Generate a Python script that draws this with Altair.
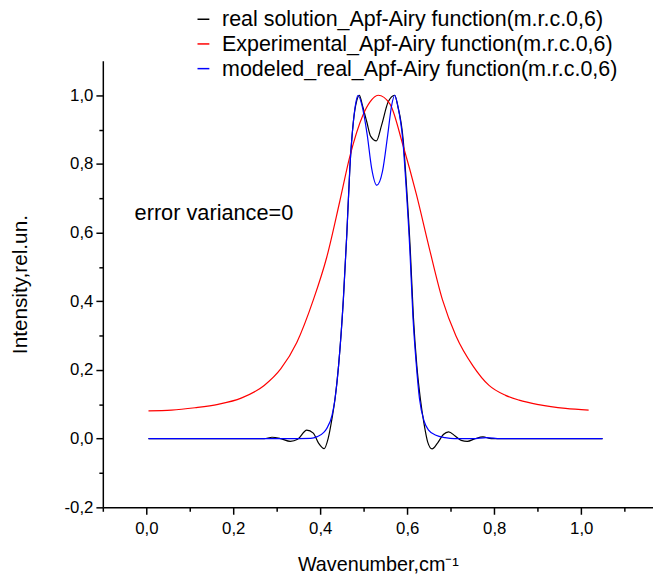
import altair as alt
import pandas as pd

# ---------------- data ----------------
series_names = [
    "\u00a0real solution_Apf-Airy function(m.r.c.0,6)",
    "Experimental_Apf-Airy function(m.r.c.0,6)",
    "modeled_real_Apf-Airy function(m.r.c.0,6)",
]
series_colors = ["#000000", "#ff0000", "#0000ff"]

real_x = [0.005, 0.112, 0.218, 0.271, 0.289, 0.309, 0.331, 0.348, 0.369, 0.384,
          0.396, 0.409, 0.418, 0.427, 0.434, 0.442, 0.453, 0.461, 0.468, 0.476,
          0.484, 0.490, 0.496, 0.507, 0.516, 0.529, 0.541, 0.556, 0.571, 0.578,
          0.591, 0.598, 0.607, 0.614, 0.622, 0.630, 0.639, 0.647, 0.657, 0.670,
          0.683, 0.695, 0.710, 0.724, 0.738, 0.756, 0.774, 0.793, 0.857, 0.964, 1.049]
real_y = [0.000, 0.000, 0.000, 0.000, 0.004, 0.000, -0.008, -0.002, 0.025, 0.016,
          -0.013, -0.029, 0.000, 0.059, 0.117, 0.212, 0.404, 0.596, 0.788, 0.922,
          0.985, 1.000, 0.975, 0.922, 0.880, 0.867, 0.913, 0.980, 1.000, 0.970,
          0.865, 0.740, 0.548, 0.356, 0.212, 0.117, 0.040, -0.010, -0.030, -0.012,
          0.012, 0.020, 0.008, -0.005, -0.008, 0.000, 0.005, 0.000, 0.000, 0.000, 0.000]

exp_x = [0.005, 0.058, 0.112, 0.165, 0.218, 0.271, 0.309, 0.346, 0.384, 0.415,
         0.445, 0.468, 0.498, 0.514, 0.533, 0.560, 0.590, 0.621, 0.650, 0.681,
         0.712, 0.751, 0.788, 0.826, 0.857, 0.902, 0.964, 1.017]
exp_y = [0.081, 0.083, 0.090, 0.100, 0.118, 0.155, 0.203, 0.280, 0.404, 0.529,
         0.692, 0.822, 0.942, 0.980, 1.000, 0.975, 0.855, 0.711, 0.558, 0.404,
         0.299, 0.212, 0.155, 0.126, 0.112, 0.099, 0.088, 0.083]

mod_x = [0.005, 0.112, 0.218, 0.325, 0.378, 0.393, 0.408, 0.415, 0.427, 0.434,
         0.442, 0.453, 0.461, 0.468, 0.476, 0.482, 0.487, 0.496, 0.508, 0.518,
         0.530, 0.543, 0.555, 0.564, 0.571, 0.578, 0.590, 0.597, 0.606, 0.613,
         0.621, 0.628, 0.639, 0.649, 0.666, 0.687, 0.708, 0.751, 0.782, 0.814, 0.910, 1.049]
mod_y = [0.000, 0.000, 0.000, 0.000, 0.001, 0.006, 0.018, 0.030, 0.068, 0.117,
         0.212, 0.404, 0.596, 0.788, 0.922, 0.980, 1.000, 0.970, 0.884, 0.788,
         0.738, 0.778, 0.884, 0.970, 1.000, 0.970, 0.865, 0.740, 0.548, 0.356,
         0.212, 0.117, 0.050, 0.025, 0.010, 0.003, 0.000, 0.000, 0.003, 0.000, 0.000, 0.000]

x_major = [0.0, 0.2, 0.4, 0.6, 0.8, 1.0]
x_minor = [-0.1, 0.1, 0.3, 0.5, 0.7, 0.9, 1.1]
y_major = [-0.2, 0.0, 0.2, 0.4, 0.6, 0.8, 1.0]
y_minor = [-0.1, 0.1, 0.3, 0.5, 0.7, 0.9]

note_x = [-0.027]
note_y = [0.637]
note_text = ["error variance=0"]

# ---------------- tables ----------------
rows = []
for name, xs, ys in zip(series_names, [real_x, exp_x, mod_x], [real_y, exp_y, mod_y]):
    for i, (a, b) in enumerate(zip(xs, ys)):
        rows.append({"series": name, "x": a, "y": b, "i": i})
df = pd.DataFrame(rows)
notes = pd.DataFrame({"x": note_x, "y": note_y, "text": note_text})

FONT = "Liberation Sans"
label_expr = "replace(replace(format(datum.value, '.1f'), '.', ','), '\u2212', '-')"

xscale = alt.Scale(domain=[-0.1, 1.165], nice=False, zero=False)
yscale = alt.Scale(domain=[-0.2, 1.1], nice=False, zero=False)
cscale = alt.Scale(domain=series_names, range=series_colors)

legend = alt.Legend(
    orient="none", legendX=91, legendY=-53, title=None,
    symbolType="stroke", symbolSize=144, symbolStrokeWidth=1.5,
    labelFont=FONT, labelFontSize=21.7, labelColor="black",
    labelOffset=8, labelLimit=800, rowPadding=2,
)

ax_major_x = alt.Axis(
    values=x_major, labelExpr=label_expr, orient="bottom", grid=False,
    tickSize=7, tickWidth=1.5, tickColor="black", domainColor="black", domainWidth=1.5,
    labelFont=FONT, labelFontSize=17, labelColor="black", labelPadding=6,
    title="Wavenumber,cm\u207b\u00b9", titleFont=FONT, titleFontSize=20,
    titleFontWeight="normal", titleColor="black", titlePadding=19,
)
ax_major_y = alt.Axis(
    values=y_major, labelExpr=label_expr, orient="left", grid=False,
    tickSize=7, tickWidth=1.5, tickColor="black", domainColor="black", domainWidth=1.5,
    labelFont=FONT, labelFontSize=17, labelColor="black", labelPadding=3,
    title="Intensity,rel.un.", titleFont=FONT, titleFontSize=21,
    titleFontWeight="normal", titleColor="black", titlePadding=34,
)
ax_minor_x = alt.Axis(values=x_minor, orient="bottom", grid=False, labels=False,
                      domain=False, tickSize=4, tickWidth=1.5, tickColor="black", title=None)
ax_minor_y = alt.Axis(values=y_minor, orient="left", grid=False, labels=False,
                      domain=False, tickSize=4, tickWidth=1.5, tickColor="black", title=None)


def line_layer(name, xaxis, yaxis):
    return alt.Chart(df).transform_filter(alt.datum.series == name).mark_line(
        strokeWidth=1.2, interpolate="monotone"
    ).encode(
        x=alt.X("x:Q", scale=xscale, axis=xaxis),
        y=alt.Y("y:Q", scale=yscale, axis=yaxis),
        color=alt.Color("series:N", scale=cscale, legend=legend, sort=series_names),
        order="i:Q",
    )


black = line_layer(series_names[0], ax_major_x, ax_major_y)
red = line_layer(series_names[1], ax_minor_x, ax_minor_y)
blue = line_layer(series_names[2], None, None)

text = alt.Chart(notes).mark_text(
    align="left", baseline="alphabetic", font=FONT, fontSize=22, color="black"
).encode(
    x=alt.X("x:Q", scale=xscale, axis=None),
    y=alt.Y("y:Q", scale=yscale, axis=None),
    text="text:N",
)

chart = alt.layer(black, red, blue, text).resolve_axis(
    x="independent", y="independent"
).properties(
    width=557, height=452,
    autosize=alt.AutoSizeParams(type="none"),
    padding={"left": 96, "top": 50, "right": 0, "bottom": 68},
    background="white",
).configure_view(stroke=None)

chart.save("out.html", embed_options={"renderer": "svg", "actions": False})
